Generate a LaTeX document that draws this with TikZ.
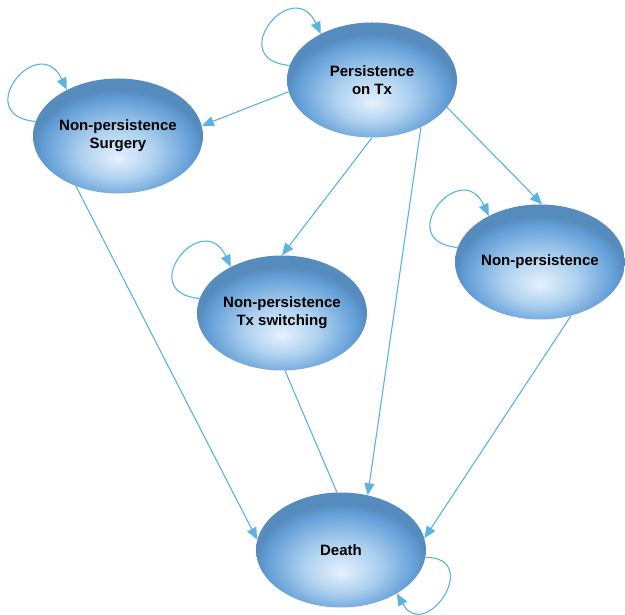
\documentclass[tikz,border=0pt]{standalone}
\usepackage{fontspec}
\setmainfont{Liberation Sans}
\usetikzlibrary{shapes.geometric,arrows.meta}
\definecolor{bubbleedge}{RGB}{98,158,215}
\definecolor{bubblemid}{RGB}{172,208,239}
\definecolor{bubblelight}{RGB}{230,241,252}
\definecolor{linkblue}{RGB}{92,178,224}
\pgfdeclareradialshading{bubble}{\pgfpoint{0bp}{-10bp}}{color(0bp)=(bubblelight); color(11bp)=(bubblemid); color(22bp)=(bubbleedge); color(25bp)=(bubbleedge!88!black); color(50bp)=(bubbleedge!88!black)}
\begin{document}
\begin{tikzpicture}[x=1pt, y=1pt]
        \tikzstyle{state} = [ellipse, shading=bubble, minimum width=170pt, minimum height=115pt, inner sep=0pt, align=center, font=\bfseries\fontsize{15}{18}\selectfont]
        \tikzstyle{link} = [draw=linkblue, line width=1.1pt, -{Triangle[length=12pt, width=10pt]}]
        \useasboundingbox (0,0) rectangle (625,615);
        \node[state] (P) at (372,535) {Persistence\\on Tx};
        \node[state] (S) at (118,479) {Non-persistence\\Surgery};
        \node[state] (X) at (282,302) {Non-persistence\\Tx switching};
        \node[state] (N) at (540,353) {Non-persistence};
        \node[state] (D) at (341,65) {Death};
        \draw[link] (P.188) -- (S.7);
        \draw[link] (P.270) -- (X.90);
        \draw[link] (P.340) -- (N.88);
        \draw[link] (P.316) -- (D.64);
        \draw[link] (S.230) -- (D.173);
        \draw[link, -] (X.273) -- (D.94);
        \draw[link] (N.300) -- (D.8);
        \draw[link] (P.170) to[out=175, in=115, looseness=3.8] (P.138);
        \draw[link] (S.170) to[out=175, in=115, looseness=3.8] (S.138);
        \draw[link] (X.170) to[out=175, in=115, looseness=3.8] (X.138);
        \draw[link] (N.170) to[out=175, in=115, looseness=3.8] (N.138);
        \draw[link] (D.355) to[out=0, in=-60, looseness=3.2] (D.322);
      \end{tikzpicture}
\end{document}
